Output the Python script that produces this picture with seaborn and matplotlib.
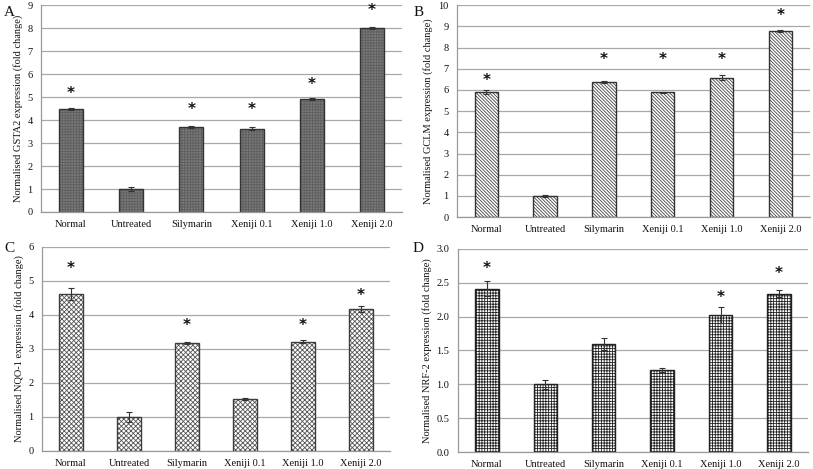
import matplotlib
matplotlib.use("Agg")
import matplotlib.pyplot as plt
from matplotlib.colors import to_rgba
import seaborn as sns
import pandas as pd
import numpy as np

categories = ["Normal", "Untreated", "Silymarin", "Xeniji 0.1", "Xeniji 1.0", "Xeniji 2.0"]

gsta2_values = [4.48, 1.00, 3.70, 3.62, 4.92, 8.00]
gsta2_errors = [0.05, 0.07, 0.06, 0.06, 0.06, 0.03]
gsta2_stars = [5.17, None, 4.44, 4.44, 5.53, 8.75]

gclm_values = [5.90, 1.00, 6.37, 5.88, 6.57, 8.78]
gclm_errors = [0.08, 0.05, 0.04, 0.03, 0.12, 0.03]
gclm_stars = [6.43, None, 7.43, 7.43, 7.43, 9.53]

nqo1_values = [4.62, 1.00, 3.17, 1.52, 3.22, 4.17]
nqo1_errors = [0.17, 0.16, 0.03, 0.03, 0.03, 0.08]
nqo1_stars = [5.36, None, 3.68, None, 3.68, 4.58]

nrf2_values = [2.41, 1.00, 1.60, 1.21, 2.02, 2.34]
nrf2_errors = [0.11, 0.07, 0.09, 0.03, 0.12, 0.05]
nrf2_stars = [2.71, None, None, None, 2.29, 2.64]

panel_letters = ["A", "B", "C", "D"]
y_labels = [
    "Normalised GSTA2 expression (fold change)",
    "Normalised GCLM expression (fold change)",
    "Normalised NQO-1 expression (fold change)",
    "Normalised NRF-2 expression (fold change)",
]

sns.set_style("white")
plt.rcParams["font.family"] = ["Liberation Serif", "DejaVu Serif"]
plt.rcParams["hatch.linewidth"] = 0.6

fig = plt.figure(figsize=(8.13, 4.69), dpi=100)

panels = [
    dict(rect=[0.0504, 0.548, 0.444, 0.441], letter_xy=(4, 12), vals=gsta2_values, errs=gsta2_errors,
         stars=gsta2_stars, ylim=(0, 9), ticks=np.arange(0, 10, 1), fmt="{:.0f}",
         face="#7a7a7a", edge="#333333", hatch_c="#5e5e5e", hatch="++++++"),
    dict(rect=[0.562, 0.537, 0.434, 0.452], letter_xy=(414, 12), vals=gclm_values, errs=gclm_errors,
         stars=gclm_stars, ylim=(0, 10), ticks=np.arange(0, 11, 1), fmt="{:.0f}",
         face="white", edge="#333333", hatch_c="#444444", hatch="\\" * 10),
    dict(rect=[0.0517, 0.0384, 0.428, 0.435], letter_xy=(4, 249), vals=nqo1_values, errs=nqo1_errors,
         stars=nqo1_stars, ylim=(0, 6), ticks=np.arange(0, 7, 1), fmt="{:.0f}",
         face="white", edge="#3c3c3c", hatch_c="#555555", hatch="xxxxxxx"),
    dict(rect=[0.563, 0.0362, 0.431, 0.433], letter_xy=(413, 249), vals=nrf2_values, errs=nrf2_errors,
         stars=nrf2_stars, ylim=(0, 3.0), ticks=np.arange(0, 3.01, 0.5), fmt="{:.1f}",
         face="white", edge="#222222", hatch_c="#222222", hatch="++++++"),
]

W, H = 813, 469
grid_c = "#a8a8a8"
for p, letter, ylab in zip(panels, panel_letters, y_labels):
    ax = fig.add_axes(p["rect"])
    df = pd.DataFrame({"category": categories, "value": p["vals"]})
    sns.barplot(data=df, x="category", y="value", ax=ax, color=p["face"], width=0.4,
                edgecolor=p["edge"], linewidth=1.0, hatch=p["hatch"], saturation=1)
    for patch in ax.patches:
        patch.set_facecolor(p["face"])
        patch._hatch_color = to_rgba(p["hatch_c"])
    xs = np.arange(len(categories))
    ax.errorbar(xs, p["vals"], yerr=p["errs"], fmt="none", ecolor="#333333",
                elinewidth=0.8, capsize=2, capthick=0.8, zorder=5)
    for x, s in zip(xs, p["stars"]):
        if s is not None:
            ax.text(x, s, "*", ha="center", va="center", fontsize=11, fontweight="bold",
                    color="#111111", family="DejaVu Sans")
    ax.set_ylim(*p["ylim"])
    ax.set_xlim(-0.5, len(categories) - 0.5)
    ax.set_yticks(p["ticks"])
    ax.set_yticklabels([p["fmt"].format(t) for t in p["ticks"]])
    ax.yaxis.grid(True, color=grid_c, linewidth=0.9)
    ax.set_axisbelow(True)
    for s in ["top", "right"]:
        ax.spines[s].set_visible(False)
    for s in ["left", "bottom"]:
        ax.spines[s].set_color("#999999")
        ax.spines[s].set_linewidth(0.9)
    ax.tick_params(axis="y", length=3, color="#999999", labelsize=7.5, pad=3, labelcolor="#111111")
    ax.tick_params(axis="x", which="major", length=0, labelsize=7.5, pad=6, labelcolor="#111111")
    ax.set_xticks(np.arange(-0.5, len(categories), 1.0), minor=True)
    ax.tick_params(axis="x", which="minor", length=3, color="#999999")
    ax.set_xlabel("")
    ax.set_ylabel(ylab, fontsize=7.5, labelpad=3.5, color="#111111")
    lx, ly = p["letter_xy"]
    fig.text(lx / W, 1 - ly / H, letter, fontsize=11, ha="left", va="center", color="#111111")

fig.savefig("out.png", dpi=100)
